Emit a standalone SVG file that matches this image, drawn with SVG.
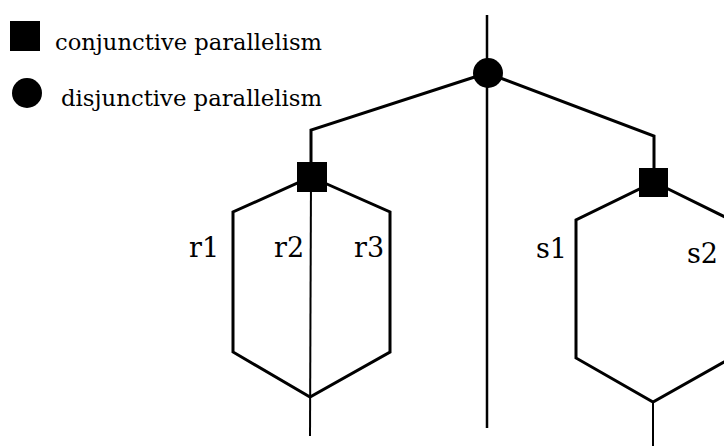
<svg xmlns="http://www.w3.org/2000/svg" width="724" height="446" viewBox="0 0 724 446">
<style>
.ln{fill:none;stroke:#000;stroke-width:3;stroke-linejoin:miter}
.thin{fill:none;stroke:#000;stroke-width:2}
text{font-family:'DejaVu Serif','Liberation Serif',serif;fill:#000}
.lbl{font-size:27px}
.leg{font-size:23px}
</style>
<rect width="724" height="446" fill="#fff"/>
<g id="legend">
<rect x="10" y="21" width="30" height="30" fill="#000"/>
<text class="leg" x="55" y="50" textLength="267" lengthAdjust="spacingAndGlyphs">conjunctive parallelism</text>
<circle cx="27" cy="93" r="15" fill="#000"/>
<text class="leg" x="61" y="106" textLength="261" lengthAdjust="spacingAndGlyphs">disjunctive parallelism</text>
</g>
<g id="connectors">
<line class="thin" x1="487" y1="15" x2="487" y2="428" style="stroke-width:2.5"/>
<polyline class="ln" points="487,73 311,130 311,177"/>
<polyline class="ln" points="487,73 654,136 654,182"/>
<line class="thin" x1="311" y1="177" x2="310" y2="436"/>
<polygon class="ln" points="311,177 390,212 390,352 310,397 233,352 233,212"/>
<polygon class="ln" points="654,182 731,220 731,358 653,402 576,358 576,220"/>
<line class="thin" x1="653" y1="402" x2="653" y2="446"/>
</g>
<g id="disj">
<circle cx="488" cy="73" r="15" fill="#000"/>
</g>
<g id="conjR">
<rect x="297" y="162" width="30" height="30" fill="#000"/>
</g>
<g id="conjS">
<rect x="639" y="168" width="29" height="29" fill="#000"/>
</g>
<g id="labels">
<text class="lbl" x="189" y="257">r1</text>
<text class="lbl" x="274" y="257">r2</text>
<text class="lbl" x="354" y="257">r3</text>
<text class="lbl" x="536" y="258">s1</text>
<text class="lbl" x="687" y="263">s2</text>
</g>
</svg>
